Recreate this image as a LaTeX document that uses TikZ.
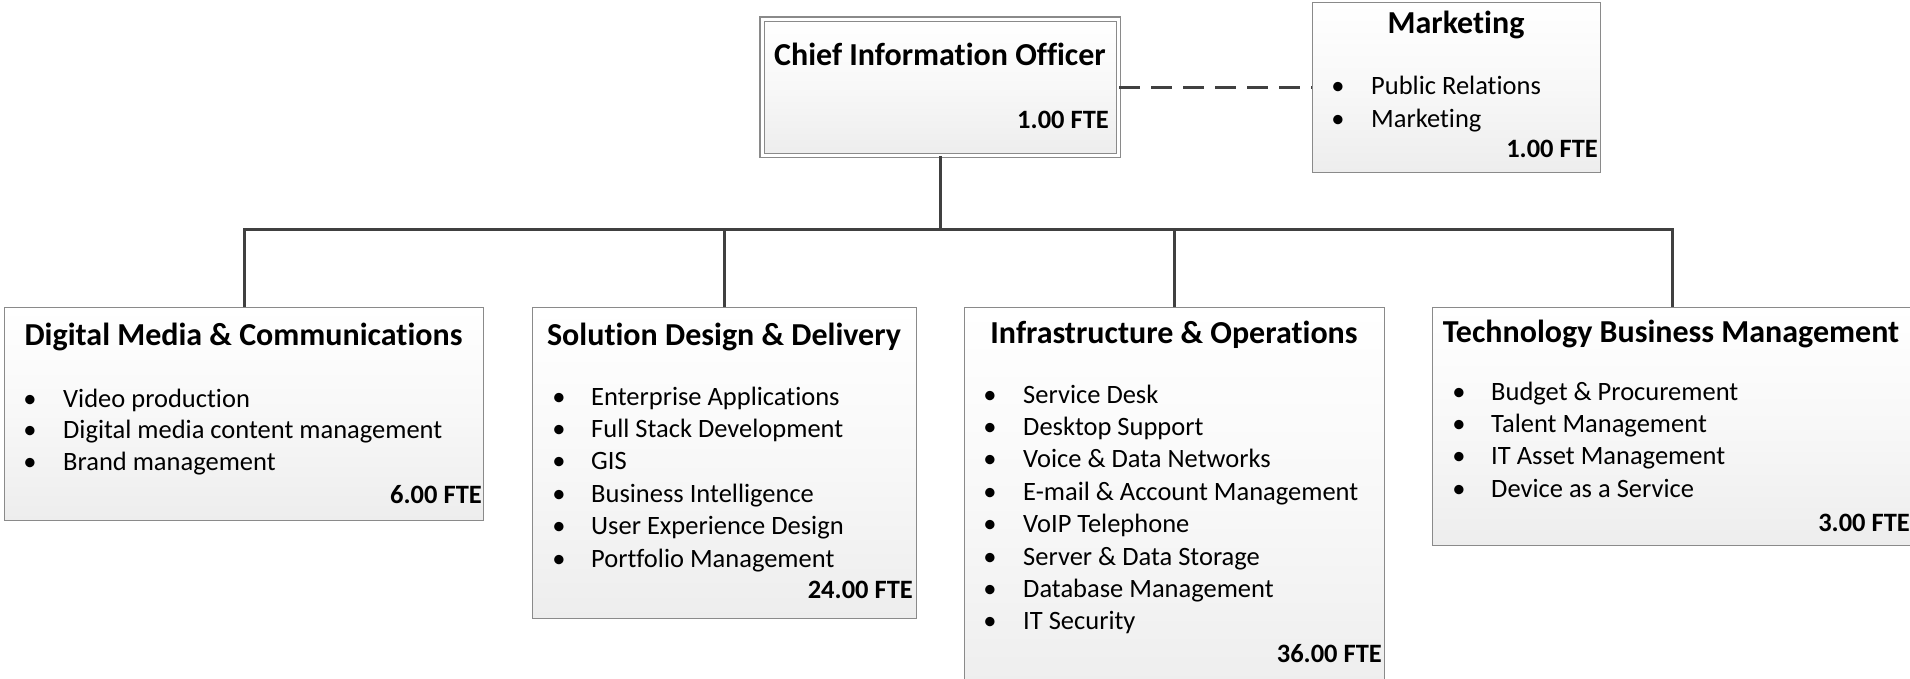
\documentclass[tikz,border=0pt]{standalone}
\usepackage{fontspec}
\setmainfont{Carlito}[Ligatures={NoCommon,NoRare,NoContextual}]
\definecolor{boxgray}{HTML}{8A8A8A}
\definecolor{boxbottom}{HTML}{EDEDED}
\definecolor{conncol}{HTML}{404040}
\newcommand\ttlfont{\fontsize{32}{38}\selectfont\bfseries}
\newcommand\bodyfont{\fontsize{26.5}{32}\selectfont}
\newcommand\ftefont{\fontsize{26.5}{32}\selectfont\bfseries}
\begin{document}
\begin{tikzpicture}[x=1pt,y=-1pt,
  orgbox/.style={draw=boxgray, line width=1.3pt, top color=white, bottom color=boxbottom,
    middle color=white!60!boxbottom, anchor=north west, inner sep=0pt},
  ttl/.style={font=\ttlfont, anchor=base, inner sep=0pt},
  fte/.style={font=\ftefont, anchor=base east, inner sep=0pt},
  itm/.style={font=\bodyfont, anchor=base west, inner sep=0pt},
  blt/.style={font=\bodyfont, anchor=base, inner sep=0pt},
  conn/.style={draw=conncol, line width=3pt}]
\useasboundingbox (0,0) rectangle (1910,678);
\clip (0,0) rectangle (1910,678);
\fill[white] (0,0) rectangle (1910,678);

% boxes
\node[orgbox, double=white, double distance=3.2pt, line width=1.2pt,
  minimum width=356.5pt, minimum height=136.5pt] (cio) at (761.5,18.5) {};
\node[orgbox, minimum width=288pt, minimum height=170pt] (mkt) at (1312,2) {};
\node[orgbox, minimum width=479pt, minimum height=213pt] (dmc) at (4,307) {};
\node[orgbox, minimum width=384pt, minimum height=311pt] (sdd) at (532,307) {};
\node[orgbox, minimum width=420pt, minimum height=395pt] (io) at (964,307) {};
\node[orgbox, minimum width=480pt, minimum height=238pt] (tbm) at (1432,307) {};

% connectors
\coordinate (bus) at (940,229);
\draw[conn] (cio.south) -- (cio.south |- bus);
\draw[conn] (dmc.north) -- (dmc.north |- bus) -- (tbm.north |- bus) -- (tbm.north);
\draw[conn] (sdd.north) -- (sdd.north |- bus);
\draw[conn] (io.north) -- (io.north |- bus);
\draw[conn, dash pattern=on 21pt off 11pt] (cio.east) -- (cio.east -| mkt.west);

% titles
\node[ttl] (cio-t) at (940,65) {Chief Information Officer};
\node[ttl] (mkt-t) at (1456,33) {Marketing};
\node[ttl] (dmc-t) at (243.5,345) {Digital Media \& Communications};
\node[ttl] (sdd-t) at (724,345) {Solution Design \& Delivery};
\node[ttl] (io-t) at (1174,343) {Infrastructure \& Operations};
\node[ttl] (tbm-t) at (1671,342) {Technology Business Management};

% FTE
\node[fte] (cio-f) at (1109,128) {1.00 FTE};
\node[fte] (mkt-f) at (1598,157) {1.00 FTE};
\node[fte] (dmc-f) at (482,503) {6.00 FTE};
\node[fte] (sdd-f) at (913,598) {24.00 FTE};
\node[fte] (io-f) at (1382,662) {36.00 FTE};
\node[fte] (tbm-f) at (1910,531) {3.00 FTE};

% bullet lists
\foreach \t [count=\i from 0] in {Public Relations, Marketing}{
  \node[blt] (mkt-b\i) at (1338,94+33*\i) {•};
  \node[itm] (mkt-i\i) at (1371,94+33*\i) {\t};
}
\foreach \t [count=\i from 0] in {Video production, Digital media content management, Brand management}{
  \node[blt] (dmc-b\i) at (30,407+31.7*\i) {•};
  \node[itm] (dmc-i\i) at (63,407+31.7*\i) {\t};
}
\foreach \t [count=\i from 0] in {Enterprise Applications, Full Stack Development, GIS, Business Intelligence, User Experience Design, Portfolio Management}{
  \node[blt] (sdd-b\i) at (559,405+32.4*\i) {•};
  \node[itm] (sdd-i\i) at (591,405+32.4*\i) {\t};
}
\foreach \t [count=\i from 0] in {Service Desk, Desktop Support, Voice \& Data Networks, E-mail \& Account Management, VoIP Telephone, Server \& Data Storage, Database Management, IT Security}{
  \node[blt] (io-b\i) at (990,403+32.4*\i) {•};
  \node[itm] (io-i\i) at (1023,403+32.4*\i) {\t};
}
\foreach \t [count=\i from 0] in {Budget \& Procurement, Talent Management, IT Asset Management, Device as a Service}{
  \node[blt] (tbm-b\i) at (1459,400+32.4*\i) {•};
  \node[itm] (tbm-i\i) at (1491,400+32.4*\i) {\t};
}
\end{tikzpicture}
\end{document}
